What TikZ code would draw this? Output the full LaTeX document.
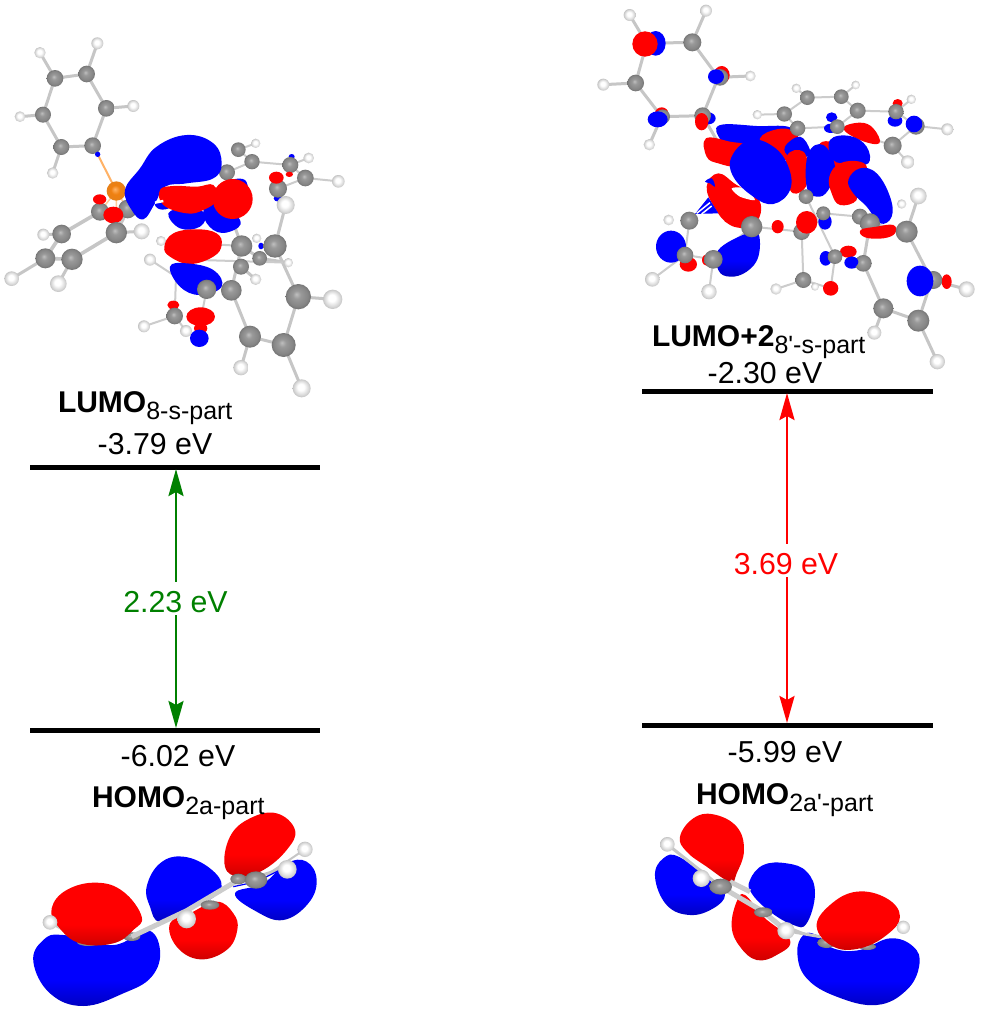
\documentclass[tikz,border=0pt]{standalone}
\usepackage{fontspec}
\setmainfont{Liberation Sans}
\newfontfamily\subfont{Liberation Sans}
\usetikzlibrary{arrows.meta}
\definecolor{gapgreen}{RGB}{0,128,0}
\definecolor{lobeB}{RGB}{0,0,255}
\definecolor{lobeBd}{RGB}{0,0,195}
\definecolor{lobeR}{RGB}{255,0,0}
\definecolor{lobeRd}{RGB}{205,0,0}
\pgfdeclareradialshading{ballCs}{\pgfpoint{-4bp}{5bp}}{color(0bp)=(gray!50!white); color(8bp)=(gray!80!white); color(20bp)=(gray!95!white); color(31bp)=(gray!75!black)}
\pgfdeclareradialshading{ballHs}{\pgfpoint{-3bp}{5bp}}{color(0bp)=(white); color(9bp)=(white); color(20bp)=(gray!30!white); color(30bp)=(gray!62!white)}
\pgfdeclareradialshading{ballCus}{\pgfpoint{-4bp}{5bp}}{color(0bp)=(orange!60!white); color(12bp)=(orange!75!brown); color(30bp)=(orange!55!brown)}
\pgfdeclareverticalshading{lobeBs}{100bp}{color(0bp)=(lobeBd); color(25bp)=(lobeBd); color(42bp)=(lobeB); color(100bp)=(lobeB)}
\pgfdeclareverticalshading{lobeRs}{100bp}{color(0bp)=(lobeRd); color(25bp)=(lobeRd); color(42bp)=(lobeR); color(100bp)=(lobeR)}
\newcommand\myCat[3]{\shade[shading=ballCs] (#1,#2) circle (#3);}
\newcommand\myHat[3]{\shade[shading=ballHs] (#1,#2) circle (#3);}
\newcommand\myRb[1]{\fill[lobeR] plot[smooth cycle,tension=0.7] coordinates {#1};}
\newcommand\myBb[1]{\fill[lobeB] plot[smooth cycle,tension=0.7] coordinates {#1};}
\newcommand\myRl[1]{\shade[shading=lobeRs] plot[smooth cycle,tension=0.7] coordinates {#1};}
\newcommand\myBl[1]{\shade[shading=lobeBs] plot[smooth cycle,tension=0.7] coordinates {#1};}
\newcommand\myRe[4]{\fill[lobeR] (#1,#2) ellipse ({#3} and {#4});}
\newcommand\myBe[4]{\fill[lobeB] (#1,#2) ellipse ({#3} and {#4});}
\newcommand\subt[1]{\raisebox{-7pt}{\fontsize{25}{25}\subfont\mdseries #1}}
\tikzset{
  every node/.style={inner sep=0pt,outer sep=0pt,text=black},
  value/.style={font=\fontsize{30.3}{30}\selectfont,anchor=base},
  orbname/.style={font=\fontsize{30}{30}\selectfont\bfseries,anchor=base west},
  level/.style={line width=5pt},
  gaparrow/.style={line width=2.6pt,{Stealth[length=27pt,width=15pt,inset=4pt]}-{Stealth[length=27pt,width=15pt,inset=4pt]},shorten >=0pt,shorten <=0pt},
  gaptext/.style={font=\fontsize{30.3}{30}\selectfont,fill=white,anchor=base,text height=30pt,text depth=3pt,inner xsep=1pt},
  bond/.style={draw=gray!45!white,line width=3pt,line join=round},
  thinbond/.style={draw=gray!40!white,line width=2pt,line join=round},
  homobond/.style={draw=gray!40!white,line width=5pt,line join=round},
  zoomed/.style={x=0.33333pt,y=-0.33333pt}
}
\begin{document}
\begin{tikzpicture}[x=1pt,y=-1pt]
\useasboundingbox (0,0) rectangle (981,1010);
\fill[white] (0,0) rectangle (981,1010);

% ---------- left upper molecule
\begin{scope}[zoomed]
\draw[bond] (165,235) -- (260,222) -- (319,325) -- (278,437) -- (184,441) -- (129,344) -- cycle;
\draw[bond] (165,235) -- (120,158) (260,222) -- (292,130) (319,325) -- (400,318) (184,441) -- (158,519) (129,344) -- (60,350);
\draw[draw=orange!60!white,line width=2pt] (293,463) -- (349,573);
\draw[draw=orange!40!white,line width=1.5pt] (349,573) -- (300,635) (349,573) -- (383,627) (349,573) -- (349,698);
\draw[bond,line width=3.6pt] (300,635) -- (185,702) -- (136,775) -- (216,778) -- (349,698) -- (383,627);
\draw[bond] (136,775) -- (35,836) (216,778) -- (175,851) (185,702) -- (130,704) (349,698) -- (425,694);
\draw[thinbond] (715,449) -- (756,485) -- (871,495) -- (916,534) -- (1015,544) (681,517) -- (756,485) (715,449) -- (767,430) (871,495) -- (926,474) (916,534) -- (834,566) -- (857,615);
\draw[bond] (825,738) -- (857,615) (825,738) -- (895,890) -- (851,1035) -- (750,1010) -- (694,871) -- (725,738) -- (690,640);
\draw[bond] (895,890) -- (998,898) (851,1035) -- (905,1165) (750,1010) -- (723,1103) (723,800) -- (767,838) (725,738) -- (779,775) -- (865,788);
\draw[thinbond] (620,868) -- (602,960) (524,948) -- (432,979) (524,948) -- (528,830) -- (450,779) (524,948) -- (558,993) (725,738) -- (483,723) (600,780) -- (865,788);
\myHat{120}{158}{17}\myHat{292}{130}{18}\myHat{400}{318}{18}\myHat{158}{519}{17}\myHat{60}{350}{16}
\myCat{165}{235}{25}\myCat{260}{222}{25}\myCat{319}{325}{25}\myCat{278}{437}{25}\myCat{184}{441}{24}\myCat{129}{344}{24}
\myBe{293}{463}{8}{8}
\myHat{130}{704}{18}\myHat{35}{836}{22}\myHat{175}{851}{25}\myHat{425}{694}{24}
\myCat{383}{627}{28}\myCat{300}{635}{27}
\myRe{299}{598}{20}{15}
\myRe{340}{645}{30}{25}
\shade[shading=ballCus] (349,573) circle (29);
\myCat{349}{698}{32}\myCat{185}{702}{28}\myCat{136}{775}{30}\myCat{216}{778}{32}
\myHat{767}{430}{14}\myHat{926}{474}{16}\myHat{1015}{544}{19}
\myCat{715}{449}{22}\myCat{756}{485}{23}\myCat{681}{517}{24}
\myBe{875}{470}{9}{8}
\myCat{871}{495}{24}\myCat{916}{534}{25}
\myRe{868}{523}{11}{8}
\myBe{835}{595}{14}{10}
\myCat{834}{566}{27}
\myRe{829}{533}{22}{18}
\myHat{857}{615}{27}
\myHat{483}{723}{15}\myHat{450}{779}{18}\myHat{770}{715}{14}\myHat{865}{788}{14}\myHat{767}{838}{17}
\myHat{432}{979}{18}\myHat{558}{993}{18}
\myCat{779}{775}{22}\myCat{723}{800}{24}
\myBe{783}{738}{8}{10}
% lobes
\myBb{(375,570) (420,505) (470,440) (560,405) (640,430) (665,490) (640,535) (560,550) (495,560) (465,610) (430,658) (395,630)}
\myBb{(465,610) (500,600) (510,622) (480,628)}
\myBb{(700,540) (735,540) (740,570) (705,570)}
\myBb{(610,640) (640,590) (720,660) (690,695) (640,690)}
\myBb{(505,640) (560,625) (615,640) (600,680) (540,685)}
\myRb{(480,570) (520,558) (590,560) (640,555) (650,600) (610,630) (560,640) (490,615)}
\myRe{698}{597}{60}{60}
\draw[draw=white,line width=2.5pt] (465,608) -- (490,603);
\myRb{(493,740) (520,700) (590,688) (650,700) (665,735) (640,770) (570,792) (510,770)}
\myBb{(510,800) (560,790) (640,810) (665,860) (600,885) (540,860)}
\myCat{620}{868}{29}\myCat{694}{871}{31}
\myCat{725}{738}{32}\myCat{825}{738}{35}
\myCat{895}{890}{38}\myCat{851}{1035}{36}\myCat{750}{1010}{33}
\myHat{998}{898}{29}\myHat{905}{1165}{27}\myHat{723}{1103}{23}
\myRe{520}{915}{18}{13}
\myCat{524}{948}{25}
\myRe{602}{950}{43}{28}
\myRe{602}{985}{20}{16}
\myBe{598}{1015}{28}{26}
\end{scope}

% ---------- right upper molecule
\begin{scope}[shift={(590,0)},zoomed]
\draw[bond] (170,130) -- (307,127) -- (385,232) -- (338,347) -- (215,350) -- (137,249) -- cycle;
\draw[bond] (170,130) -- (119,45) (307,127) -- (348,32) (385,232) -- (481,228) (137,249) -- (40,254) (215,350) -- (178,434) (338,347) -- (380,420);
\draw[thinbond] (652,293) -- (754,290) -- (803,332) -- (742,380) -- (623,385) -- (583,342) -- cycle (583,342) -- (502,344) (652,293) -- (619,265) (754,290) -- (797,255) (803,332) -- (918,335) -- (964,298) (918,335) -- (978,378) -- (1072,388) (978,378) -- (908,437) -- (953,486) (742,380) -- (908,437);
\draw[bond] (840,670) -- (950,695) -- (1025,840) -- (985,962) -- (880,925) -- (820,790) -- (840,670) (950,695) -- (985,588) (1025,840) -- (1130,868) (985,962) -- (1042,1085) (880,925) -- (853,998);
\draw[thinbond] (635,695) -- (640,840) -- (558,867) (640,840) -- (722,865) -- (735,770) (648,590) -- (735,770) (700,640) -- (810,650) (285,765) -- (298,662) (285,765) -- (187,838) (370,778) -- (357,875) (285,765) -- (370,778) -- (485,680) (635,695) -- (485,680);
\myHat{119}{45}{18}\myHat{348}{32}{18}\myHat{481}{228}{16}\myHat{40}{254}{18}\myHat{178}{434}{17}
\myBe{197}{130}{30}{37}
\myRe{165}{132}{38}{38}
\myCat{307}{127}{27}\myCat{137}{249}{25}
\myRe{395}{225}{24}{27}
\myCat{390}{232}{25}
\myBe{378}{230}{24}{22}
\myRe{215}{340}{20}{18}
\myCat{218}{350}{22}
\myBe{203}{358}{30}{24}
\myBe{355}{355}{22}{18}
\myCat{338}{347}{25}
\myRe{335}{365}{20}{26}
\myHat{619}{265}{14}\myHat{797}{255}{13}\myHat{502}{344}{14}\myHat{964}{298}{14}\myHat{1072}{388}{18}\myHat{953}{486}{20}
\myCat{652}{293}{22}\myCat{754}{290}{22}\myCat{803}{332}{24}\myCat{583}{342}{23}
\myRe{923}{310}{15}{13}
\myBe{915}{362}{22}{18}
\myCat{918}{335}{23}
\myCat{978}{378}{26}
\myBe{972}{372}{25}{25}
\myRb{(760,385) (810,368) (850,385) (868,430) (810,420)}
\myCat{908}{437}{27}
\myBe{725}{352}{17}{15}
\myBe{722}{385}{20}{14}
\myCat{742}{380}{22}
% central lobes
\myBb{(388,376) (500,378) (610,388) (600,470) (430,450) (392,420)}
\myRb{(348,415) (420,425) (470,440) (440,495) (385,490) (350,470)}
\myRb{(510,415) (560,388) (610,395) (640,450) (600,480) (530,460)}
\myCat{623}{385}{23}
\myBb{(585,440) (630,410) (660,450) (650,470) (600,470)}
\myRb{(590,470) (640,455) (655,520) (640,570) (600,570)}
\myRb{(690,430) (730,430) (755,480) (720,520) (700,470)}
\myBb{(720,420) (780,408) (830,440) (835,490) (780,490) (730,480)}
\myBb{(655,460) (700,435) (735,500) (715,570) (680,590) (650,560)}
\myRb{(718,530) (750,490) (810,485) (830,510) (790,550) (800,600) (750,615) (725,580)}
\myBb{(775,540) (810,505) (860,520) (900,590) (905,650) (870,670) (830,620) (790,580)}
\myRb{(350,560) (385,520) (440,555) (500,590) (512,640) (480,680) (420,675) (375,625)}
\fill[white] plot[smooth cycle] coordinates {(425,565) (465,565) (495,600) (450,590)};
\myBb{(345,545) (365,535) (375,560) (360,550)}
\fill[lobeB] (315,642) -- (355,592) -- (385,640) -- cycle;
\draw[white,line width=1.5pt] (320,640) -- (360,608) (335,642) -- (365,618);
\myBb{(425,470) (480,420) (550,440) (595,500) (600,570) (550,612) (490,590) (430,530)}
\myHat{236}{660}{16}\myHat{187}{838}{22}\myHat{357}{875}{23}
\myHat{558}{867}{17}\myHat{675}{860}{12}\myHat{935}{612}{14}
\myCat{298}{662}{27}
\myBe{243}{740}{45}{48}
\myRe{295}{793}{26}{22}
\myCat{285}{765}{25}
\myBl{(385,750) (470,700) (505,700) (505,770) (470,815) (420,830) (385,810)}
\myRe{352}{780}{16}{18}
\myCat{370}{778}{28}
\myCat{485}{680}{32}
\myRe{563}{680}{18}{20}
\myCat{635}{695}{25}
\myRe{650}{667}{32}{34}
\myCat{648}{590}{22}
\myBe{705}{665}{20}{24}
\myCat{700}{640}{21}
\myCat{810}{650}{24}
\myCat{840}{670}{30}
\myRb{(812,690) (860,680) (910,675) (915,700) (880,715) (825,712)}
\myCat{950}{695}{33}
\myCat{640}{840}{24}
\myRe{722}{865}{23}{22}
\myRe{775}{755}{25}{18}
\myBe{785}{788}{22}{18}
\myBe{707}{775}{18}{22}
\myCat{820}{790}{25}
\myCat{735}{770}{22}
\myBe{785}{786}{20}{16}
\myCat{880}{925}{30}\myCat{985}{962}{33}
\myRe{1070}{845}{15}{22}
\myCat{1030}{840}{27}
\myBe{990}{843}{40}{46}
\myHat{985}{588}{25}\myHat{1130}{868}{24}\myHat{1042}{1085}{23}\myHat{853}{998}{21}
\end{scope}

% ---------- left HOMO
\begin{scope}[shift={(0,780)},zoomed]
\myBl{(100,545) (130,480) (190,465) (340,495) (440,450) (480,510) (455,590) (370,640) (250,678) (150,640)}
\draw[bond] (150,427) -- (265,488);
\shade[shading=ballCs] (265,487) ellipse (34 and 11);
\shade[shading=ballCs] (395,470) ellipse (26 and 13);
\myRl{(155,385) (200,330) (290,308) (370,335) (425,410) (400,450) (340,490) (240,490) (175,440)}
\myBl{(440,320) (480,250) (550,230) (630,265) (665,320) (620,365) (560,385) (480,425) (450,380)}
\myRl{(510,430) (570,400) (650,365) (700,400) (712,450) (680,510) (600,538) (530,500)}
\myBl{(705,340) (790,310) (860,250) (920,245) (950,300) (925,370) (850,420) (770,395)}
\myRl{(675,260) (690,170) (750,115) (830,100) (885,150) (860,210) (790,270) (720,290)}
\draw[homobond] (395,470) -- (560,392) -- (715,300);
\draw[bond] (740,300) -- (860,262);
\draw[bond,line width=2pt] (800,285) -- (915,208);
\draw[lobeB,line width=1.2pt] (700,320) -- (770,305) -- (840,270);
\shade[shading=ballCs] (630,375) ellipse (28 and 14);
\shade[shading=ballCs] (715,297) ellipse (24 and 16);
\shade[shading=ballCs] (768,300) ellipse (34 and 26);
\myHat{150}{427}{22}\myHat{560}{417}{28}\myHat{862}{268}{28}\myHat{915}{208}{23}
\end{scope}

% ---------- right HOMO
\begin{scope}[shift={(630,780)},zoomed]
\myBl{(75,290) (100,235) (150,232) (250,310) (285,345) (250,385) (180,405) (110,375)}
\myRl{(150,170) (190,115) (250,103) (320,140) (342,210) (320,280) (300,305) (230,260) (170,215)}
\myRl{(305,440) (320,365) (345,345) (400,410) (480,480) (440,525) (380,540) (330,500)}
\myBl{(360,300) (400,255) (470,250) (530,275) (555,340) (530,430) (490,435) (420,395) (365,340)}
\draw[homobond] (272,320) -- (400,395) -- (468,452);
\draw[bond] (112,193) -- (272,320);
\draw[homobond] (300,305) -- (360,335);
\draw[bond] (468,440) -- (590,490);
\shade[shading=ballCs] (272,320) ellipse (34 and 24);
\shade[shading=ballCs] (400,397) ellipse (28 and 15);
\myBl{(502,520) (520,465) (560,465) (610,505) (690,510) (780,475) (850,500) (868,555) (830,630) (740,675) (620,650) (530,595)}
\draw[bond] (468,452) -- (570,470);
\shade[shading=ballCs] (590,488) ellipse (28 and 16);
\shade[shading=ballCs] (712,500) ellipse (26 and 10);
\myRl{(560,440) (600,375) (680,335) (770,355) (810,410) (770,465) (690,505) (610,500)}
\myHat{112}{193}{22}\myHat{214}{295}{26}\myHat{468}{452}{26}\myHat{820}{442}{20}
\end{scope}

% ---------- energy levels
\coordinate (la1) at (30,467);  \coordinate (la2) at (320,467);
\coordinate (lb1) at (30,730);  \coordinate (lb2) at (320,730);
\coordinate (ra1) at (642,391); \coordinate (ra2) at (933,391);
\coordinate (rb1) at (642,725); \coordinate (rb2) at (933,725);
\coordinate (lgtop) at (176,469); \coordinate (lgbot) at (176,728);
\coordinate (rgtop) at (787,393); \coordinate (rgbot) at (787,723);
\draw[level] (la1) -- (la2);
\draw[level] (lb1) -- (lb2);
\draw[level] (ra1) -- (ra2);
\draw[level] (rb1) -- (rb2);
\draw[gaparrow,gapgreen] (lgtop) -- (lgbot);
\draw[gaparrow,red] (rgtop) -- (rgbot);
\node[gaptext,text=gapgreen] (lgap) at (175.5,612) {2.23 eV};
\node[gaptext,text=red] (rgap) at (786,574) {3.69 eV};
\node[orbname] (llumo) at (58,412) {LUMO\subt{8-s-part}};
\node[value] (lluv) at (155,454) {-3.79 eV};
\node[value] (lhov) at (178,766) {-6.02 eV};
\node[orbname] (lhomo) at (92,807) {HOMO\subt{2a-part}};
\node[orbname] (rlumo) at (652,346) {LUMO+2\subt{8'-s-part}};
\node[value] (rluv) at (765,383) {-2.30 eV};
\node[value] (rhov) at (785,762) {-5.99 eV};
\node[orbname] (rhomo) at (696,804) {HOMO\subt{2a'-part}};
\end{tikzpicture}
\end{document}
